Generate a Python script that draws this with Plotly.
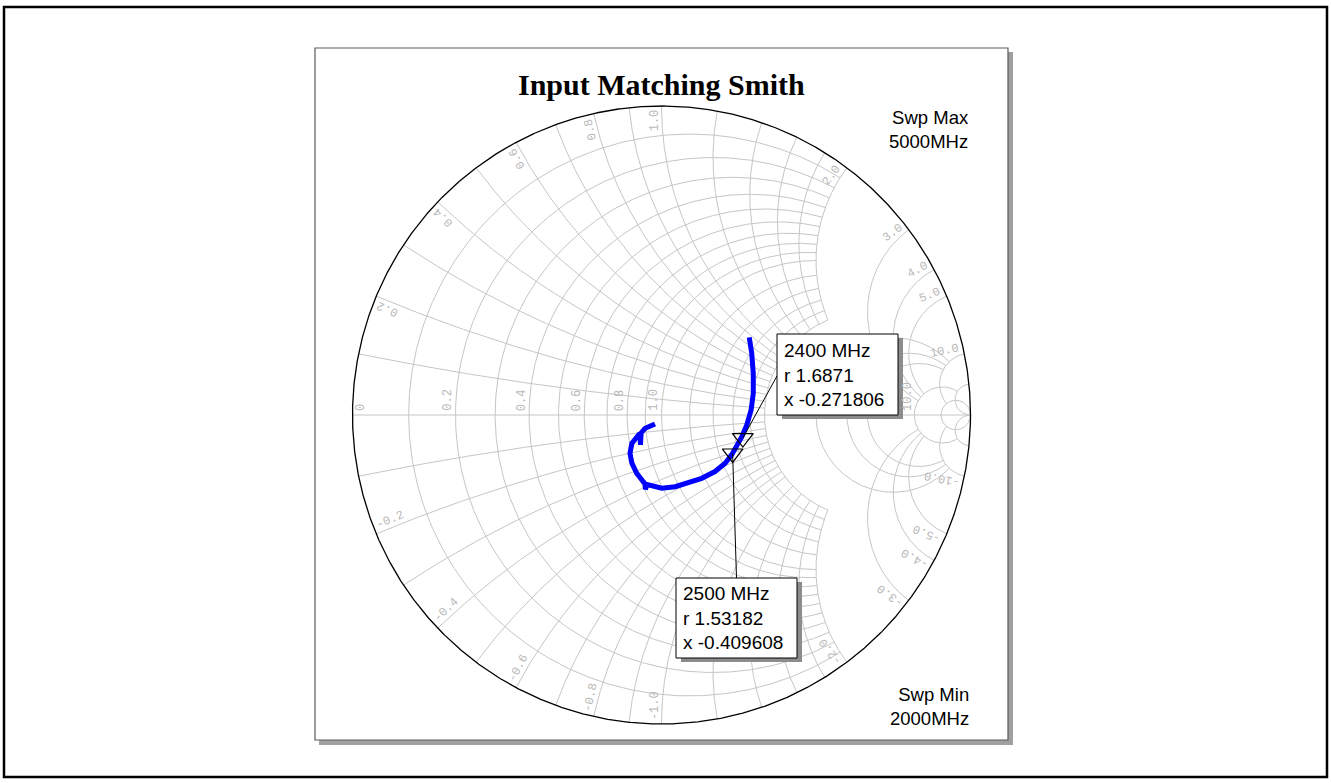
import numpy as np
import plotly.graph_objects as go

W, H = 1331, 783
CX, CY, R = 661.5, 415.0, 309.0   # pixel centre / radius of the unit (|Gamma|=1) circle

# ---------------- data (reflection coefficient, 2000 -> 5000 MHz) ----
s11_re = [0.284, 0.292, 0.297, 0.297, 0.290, 0.276, 0.260, 0.243, 0.227, 0.206,
          0.173, 0.130, 0.087, 0.044, 0.001, -0.037, -0.047, -0.052, -0.053, -0.059,
          -0.080, -0.096, -0.102, -0.096, -0.080, -0.070, -0.068, -0.066, -0.053, -0.021]
s11_im = [0.251, 0.200, 0.135, 0.070, 0.016, -0.032, -0.070, -0.103, -0.129, -0.156,
          -0.183, -0.205, -0.219, -0.232, -0.237, -0.227, -0.225, -0.241, -0.223, -0.216,
          -0.189, -0.156, -0.124, -0.092, -0.070, -0.059, -0.097, -0.058, -0.043, -0.029]

marker_freq = ["2400 MHz", "2500 MHz"]
marker_r = [1.6871, 1.53182]
marker_x = [-0.271806, -0.409608]

sweep_max = "5000MHz"
sweep_min = "2000MHz"
title_text = "Input Matching Smith"

# ---------------- grid definition (value groups and where each group stops) ----------
r_fine = [0.1, 0.2, 0.3, 0.4, 0.5, 0.6, 0.7, 0.8, 0.9, 1.0]
r_mid = [1.2, 1.4, 1.6, 1.8, 2.0]
r_coarse = [3.0, 4.0, 5.0]
r_far = [10.0]
r_full = [20.0]
x_fine = [0.1, 0.2, 0.3, 0.4, 0.5, 0.6, 0.7, 0.8, 0.9, 1.0]
x_mid = [1.2, 1.4, 1.6, 1.8, 2.0]
x_coarse = [3.0, 4.0, 5.0]
x_far = [10.0]
x_full = [20.0]
r_groups = [(r_fine, 2.0), (r_mid, 2.0), (r_coarse, 10.0), (r_far, 20.0), (r_full, None)]
x_groups = [(x_fine, 2.0), (x_mid, 2.0), (x_coarse, 10.0), (x_far, 20.0), (x_full, None)]

real_tick_vals = [0.0, 0.2, 0.4, 0.6, 0.8, 1.0, 10.0]
real_tick_text = ["0", "0.2", "0.4", "0.6", "0.8", "1.0", "10.0"]
imag_tick_vals = [0.2, 0.4, 0.6, 0.8, 1.0, 2.0, 3.0, 4.0, 5.0, 10.0]
imag_tick_text = ["0.2", "0.4", "0.6", "0.8", "1.0", "2.0", "3.0", "4.0", "5.0", "10.0"]


def z2g(z):
    return (z - 1) / (z + 1)


def r_circle(r, xmax):
    c = r / (1 + r)
    a = 1 / (1 + r)
    if xmax is None:
        phi = np.linspace(0, 2 * np.pi, 721)
    else:
        p0 = np.angle(z2g(complex(r, xmax)) - c)
        phi = np.linspace(p0, 2 * np.pi - p0, 500)
    return c + a * np.exp(1j * phi)


def x_arc(x, rmax):
    C = complex(1, 1 / x)
    rho = 1 / abs(x)
    gb = z2g(complex(0, x))
    ge = 1 + 0j if rmax is None else z2g(complex(rmax, x))
    tb = np.angle(gb - C)
    te = np.angle(ge - C)
    d = (te - tb + np.pi) % (2 * np.pi) - np.pi
    t = tb + np.linspace(0, 1, 400) * d
    return C + rho * np.exp(1j * t)


gx, gy = [], []
for vals, lim in r_groups:
    for r in vals:
        p = r_circle(r, lim)
        gx += list(p.real) + [None]
        gy += list(p.imag) + [None]
for vals, lim in x_groups:
    for x in vals:
        for s in (1, -1):
            p = x_arc(s * x, lim)
            gx += list(p.real) + [None]
            gy += list(p.imag) + [None]
gx += [-1, 1, None]
gy += [0, 0, None]

fig = go.Figure()
fig.add_trace(go.Scatter(x=gx, y=gy, mode="lines", line=dict(color="#c6c6c6", width=1),
                         hoverinfo="skip"))
t = np.linspace(0, 2 * np.pi, 1441)
fig.add_trace(go.Scatter(x=np.cos(t), y=np.sin(t), mode="lines",
                         line=dict(color="black", width=1.3), hoverinfo="skip"))
fig.add_trace(go.Scatter(x=s11_re, y=s11_im, mode="lines",
                         line=dict(color="#0000ff", width=5)))

mz = [complex(a, b) for a, b in zip(marker_r, marker_x)]
mg = [z2g(z) for z in mz]
fig.add_trace(go.Scatter(x=[g.real for g in mg], y=[g.imag for g in mg], mode="markers",
                         marker=dict(symbol="triangle-down-open", size=18,
                                     line=dict(color="black", width=1.2), color="black")))


def px(x):
    return x / W


def py(y):
    return 1 - y / H


shapes = []
shapes.append(dict(type="rect", xref="paper", yref="paper", x0=px(4), x1=px(1327), y0=py(7), y1=py(777),
                   line=dict(color="black", width=2.5), layer="below"))
shapes.append(dict(type="rect", xref="paper", yref="paper", x0=px(319), x1=px(1013), y0=py(52), y1=py(745),
                   line=dict(width=0), fillcolor="#a0a0a0", layer="below"))
shapes.append(dict(type="rect", xref="paper", yref="paper", x0=px(315), x1=px(1008), y0=py(48), y1=py(740),
                   line=dict(color="#5a5a5a", width=1.2), fillcolor="white", layer="below"))

boxes = [(777, 334, 898, 415), (676, 578, 797, 658)]
anchors = [(777, 376), (736.5, 578)]
annotations = []
for i, (g, (bx0, by0, bx1, by1), (ax, ay)) in enumerate(zip(mg, boxes, anchors)):
    gxp = CX + g.real * R
    gyp = CY - g.imag * R
    shapes.append(dict(type="line", xref="paper", yref="paper", x0=px(gxp), y0=py(gyp), x1=px(ax), y1=py(ay),
                       line=dict(color="black", width=1), layer="above"))
    shapes.append(dict(type="rect", xref="paper", yref="paper", x0=px(bx0 + 5), x1=px(bx1 + 5),
                       y0=py(by0 + 4), y1=py(by1 + 4), line=dict(width=0), fillcolor="#8c8c8c", layer="above"))
    shapes.append(dict(type="rect", xref="paper", yref="paper", x0=px(bx0), x1=px(bx1), y0=py(by0), y1=py(by1),
                       line=dict(color="black", width=1), fillcolor="white", layer="above"))

label_font = dict(family="Liberation Mono", size=12, color="#b8b8b8")
for v, s in zip(real_tick_vals, real_tick_text):
    g = (v - 1) / (v + 1)
    L = len(s) * 7.2
    annotations.append(dict(x=g, y=0, xref="x", yref="y", text=s, showarrow=False, textangle=-90,
                            xanchor="center", yanchor="middle",
                            font=label_font, xshift=(9 if v == 0 else -7), yshift=L / 2 + 4))
for v, s in zip(imag_tick_vals, imag_tick_text):
    for sign in (1, -1):
        txt = s if sign > 0 else "-" + s
        g = z2g(complex(0, sign * v))
        th = np.angle(g)
        L = len(txt) * 7.2
        rho = 1 - (L / 2 + 4) / R
        tang = np.array([-np.sin(th), np.cos(th)]) * sign * 7 / R
        xx = rho * np.cos(th) + tang[0]
        yy = rho * np.sin(th) + tang[1]
        deg = np.degrees(th)
        ang = -deg if sign > 0 else -(deg + 180)
        annotations.append(dict(x=xx, y=yy, xref="x", yref="y", text=txt, showarrow=False, textangle=ang,
                                xanchor="center", yanchor="middle", font=label_font))

annotations.append(dict(x=px(CX), y=py(84), xref="paper", yref="paper", text="<b>" + title_text + "</b>",
                        showarrow=False, xanchor="center", yanchor="middle",
                        font=dict(family="Liberation Serif", size=30, color="black")))
sans = dict(family="Liberation Sans", size=18.5, color="black")
annotations.append(dict(x=px(971), y=py(129), xref="paper", yref="paper", text="Swp Max<br>" + sweep_max,
                        showarrow=False, xanchor="right", yanchor="middle", align="right", font=sans))
annotations.append(dict(x=px(971), y=py(706), xref="paper", yref="paper", text="Swp Min<br>" + sweep_min,
                        showarrow=False, xanchor="right", yanchor="middle", align="right", font=sans))
box_font = dict(family="Liberation Sans", size=19, color="black")
for f, r, x, (bx0, by0, bx1, by1) in zip(marker_freq, marker_r, marker_x, boxes):
    annotations.append(dict(x=px(bx0 + 5), y=py((by0 + by1) / 2), xref="paper", yref="paper",
                            text=f + "<br>r " + str(r) + "<br>x " + str(x), showarrow=False,
                            xanchor="left", yanchor="middle", align="left", font=box_font))

fig.update_layout(
    width=W, height=H, autosize=False,
    margin=dict(l=0, r=0, t=0, b=0),
    paper_bgcolor="white", plot_bgcolor="rgba(0,0,0,0)",
    showlegend=False,
    xaxis=dict(range=[(0 - CX) / R, (W - CX) / R], visible=False, fixedrange=True),
    yaxis=dict(range=[(CY - H) / R, CY / R], visible=False, fixedrange=True),
    shapes=shapes, annotations=annotations,
)

fig.write_html("out.html", config={"displayModeBar": False},
               post_script="document.body.style.margin='0';document.body.style.overflow='hidden';")
